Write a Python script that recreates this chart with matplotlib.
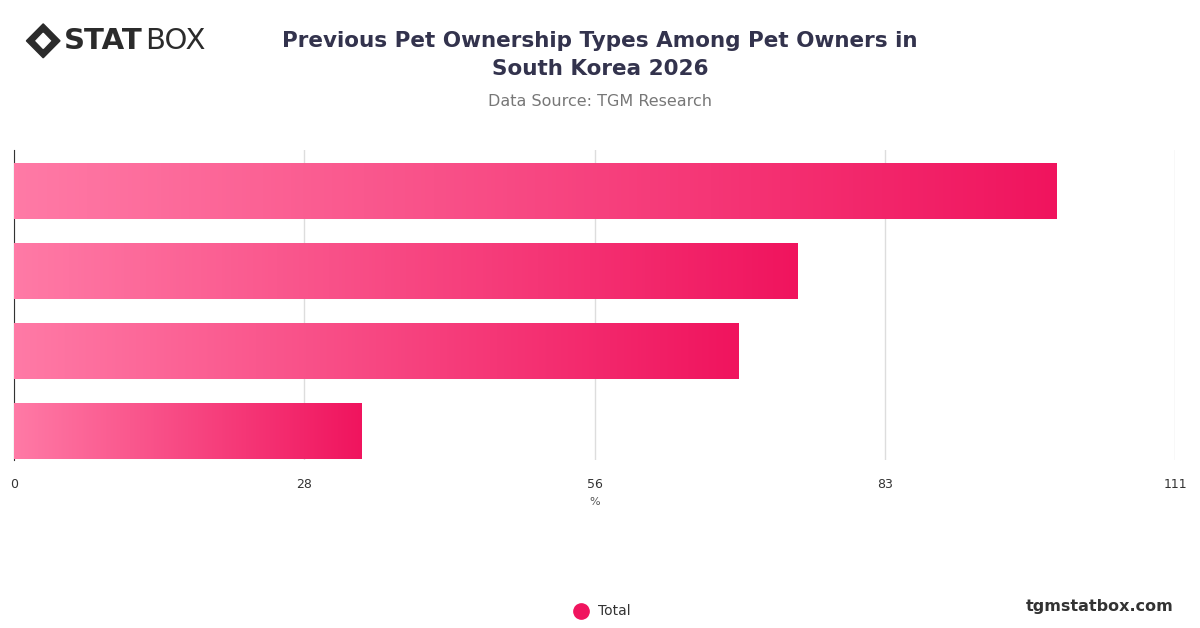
import matplotlib
matplotlib.use("Agg")
import matplotlib.pyplot as plt
import numpy as np
from matplotlib.colors import LinearSegmentedColormap
from matplotlib.patches import Polygon
from matplotlib.lines import Line2D

categories = ["Type A", "Type B", "Type C", "Type D"]
values = [99.7, 74.9, 69.3, 33.2]
tick_pos = [0, 27.75, 55.5, 83.25, 111]
tick_labels = ["0", "28", "56", "83", "111"]

fig = plt.figure(figsize=(12, 6.28), dpi=100)
ax = fig.add_axes([14/1200, (628-460)/628, (1175-14)/1200, 310/628])
cmap = LinearSegmentedColormap.from_list("g", ["#ff7aa6", "#f0145e"])
grad = np.linspace(0, 1, 256).reshape(1, -1)
n = len(values)
h = 0.69
for i, v in enumerate(values):
    ax.imshow(grad, cmap=cmap, aspect="auto", extent=[0, v, i + h/2, i - h/2], zorder=3)
ax.set_ylim(3.3625, -0.5125)
ax.set_xlim(0, 111)
ax.set_xticks(tick_pos)
ax.set_xticklabels(tick_labels, fontsize=9, color="#333")
ax.set_yticks([])
ax.grid(axis="x", color="#dddddd", lw=1, zorder=0)
for s in ["top", "right", "bottom"]:
    ax.spines[s].set_visible(False)
ax.spines["left"].set_color("#333")
ax.tick_params(axis="x", length=0, pad=13)
ax.set_xlabel("%", fontsize=8, color="#555", labelpad=4)

fig.text(0.5, 1 - 55/628, "Previous Pet Ownership Types Among Pet Owners in\nSouth Korea 2026",
         ha="center", va="center", fontsize=15.5, fontweight="bold", color="#33334d", linespacing=1.45)
fig.text(0.5, 1 - 102/628, "Data Source: TGM Research", ha="center", va="center", fontsize=11.5, color="#777")
# logo
fig.text(0.053, 0.935, "STAT", ha="left", va="center", fontsize=21, fontweight="heavy", color="#2b2b2b")
fig.text(0.121, 0.935, "BOX", ha="left", va="center", fontsize=21, color="#2b2b2b")
fig.patches.append(Polygon([[0.022, 0.935], [0.036, 0.962], [0.050, 0.935], [0.036, 0.908]],
                           closed=True, transform=fig.transFigure, color="#2b2b2b"))
fig.patches.append(Polygon([[0.030, 0.935], [0.036, 0.947], [0.042, 0.935], [0.036, 0.923]],
                           closed=True, transform=fig.transFigure, color="white"))
# legend
fig.lines.append(Line2D([581/1200], [1 - 611/628], marker="o", markersize=11, color="#f0145e",
                        transform=fig.transFigure))
fig.text(598/1200, 1 - 611/628, "Total", ha="left", va="center", fontsize=10, color="#333")
fig.text(0.978, 1 - 606/628, "tgmstatbox.com", ha="right", va="center", fontsize=11.5, fontweight="bold", color="#333")
fig.savefig("out.png", dpi=100)
